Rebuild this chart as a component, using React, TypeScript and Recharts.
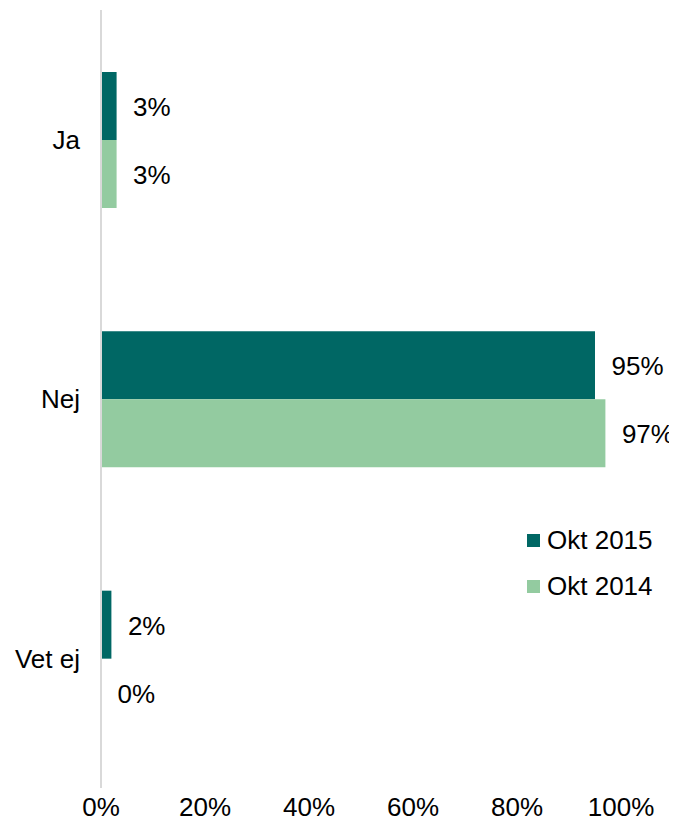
import React from 'react';
import { BarChart, Bar, XAxis, YAxis, LabelList } from 'recharts';

const categories = ['Ja', 'Nej', 'Vet ej'];
const okt2015 = [3, 95, 2];
const okt2014 = [3, 97, 0];
const xTicks = [0, 20, 40, 60, 80, 100];
const seriesNames = ['Okt 2015', 'Okt 2014'];
const colors = ['#006764', '#93CBA0'];

const data = categories.map((c, i) => ({ name: c, a: okt2015[i], b: okt2014[i] }));

const FONT = 'Liberation Sans, Arial, sans-serif';
const FS = 26;

const renderLabel = (props: any) => {
  const { x, y, width, height, value } = props;
  return (
    <text
      x={Number(x) + Number(width) + 16.5}
      y={Number(y) + Number(height) / 2 + 1}
      dominantBaseline="central"
      fill="#000"
      fontSize={FS}
      fontFamily={FONT}
    >
      {`${Math.round(Number(value))}%`}
    </text>
  );
};

export default function App() {
  return (
    <div style={{ position: 'relative', width: 661, height: 814, overflow: 'visible' }}>
      <style>{`html,body{overflow:hidden} .recharts-surface,.recharts-wrapper{overflow:visible !important}`}</style>
      <BarChart
        width={661}
        height={814}
        data={data}
        layout="vertical"
        margin={{ top: 2, right: 48, bottom: 0, left: 0 }}
        barGap={0}
        style={{ fontFamily: FONT, overflow: 'visible' }}
      >
        <XAxis
          type="number"
          domain={[0, 100]}
          ticks={xTicks}
          tickFormatter={(v) => `${v}%`}
          axisLine={false}
          tickLine={false}
          tickSize={0}
          tickMargin={10}
          height={34}
          tick={{ fill: '#000', fontSize: FS, fontFamily: FONT }}
          interval={0}
        />
        <YAxis
          type="category"
          dataKey="name"
          width={93}
          axisLine={{ stroke: '#d9d9d9', strokeWidth: 2 }}
          tickLine={false}
          tickSize={0}
          tickMargin={21}
          tick={{ fill: '#000', fontSize: FS, fontFamily: FONT }}
        />
        <Bar dataKey="a" name={seriesNames[0]} fill={colors[0]} barSize={68} isAnimationActive={false}>
          <LabelList dataKey="a" content={renderLabel} />
        </Bar>
        <Bar dataKey="b" name={seriesNames[1]} fill={colors[1]} barSize={68} minPointSize={0.01} isAnimationActive={false}>
          <LabelList dataKey="b" content={renderLabel} />
        </Bar>
      </BarChart>
      <div style={{ position: 'absolute', left: 519, top: 509, fontFamily: FONT, fontSize: FS, color: '#000' }}>
        {seriesNames.map((n, i) => (
          <div key={n} style={{ display: 'flex', alignItems: 'center', height: 46, whiteSpace: 'nowrap' }}>
            <span style={{ display: 'inline-block', width: 13, height: 13, background: colors[i], marginRight: 7 }} />
            <span>{n}</span>
          </div>
        ))}
      </div>
    </div>
  );
}
